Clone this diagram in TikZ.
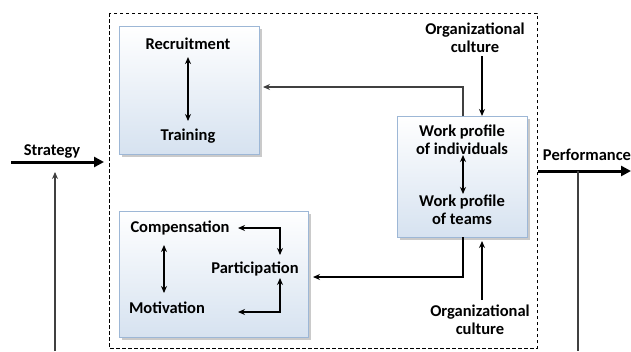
\documentclass[tikz,border=0pt]{standalone}
\usepackage{fontspec}
\setmainfont{Carlito}
\usetikzlibrary{arrows.meta,shadows,calc}
\definecolor{boxbot}{HTML}{D6E2F0}
\definecolor{boxedge}{HTML}{9DB7D6}
\tikzset{
  panel/.style={draw=boxedge, line width=0.8pt, top color=white, bottom color=boxbot,
    drop shadow={shadow xshift=2.5pt, shadow yshift=-2.5pt, fill=gray!70, opacity=0.6}},
  lbl/.style={font=\bfseries\fontsize{16.5}{17.5}\selectfont, align=center, inner sep=0pt},
  conn/.style={line width=1.3pt, -{Stealth[length=7pt,width=6pt]}},
  dconn/.style={line width=1.3pt, {Stealth[length=7pt,width=6pt]}-{Stealth[length=7pt,width=6pt]}},
  thin/.style={line width=1.1pt, draw=black!75},
  big/.style={line width=3pt, -{Stealth[length=10pt,width=10pt,inset=0pt]}}
}
\begin{document}
\begin{tikzpicture}[x=1pt,y=-1pt]
\useasboundingbox (0,0) rectangle (631,351);
% outer dashed frame
\draw[line width=0.9pt, dash pattern=on 3.5pt off 2.5pt] (109,13) rectangle (537,348);
% panels
\node[panel, minimum width=140pt, minimum height=128pt, inner sep=0pt] (rt) at (189,90) {};
\node[panel, minimum width=130pt, minimum height=121pt, inner sep=0pt] (wp) at (462,176.5) {};
\node[panel, minimum width=189pt, minimum height=126pt, inner sep=0pt] (cm) at (213.5,274) {};
% texts
\node[lbl] (rec) at (188,44) {Recruitment};
\node[lbl] (tra) at (188,136) {Training};
\node[lbl] (org1) at (475,38) {Organizational\\culture};
\node[lbl] (org2) at (480,320) {Organizational\\culture};
\node[lbl] (ind) at (462,140) {Work profile\\of individuals};
\node[lbl] (tea) at (462,210) {Work profile\\of teams};
\node[lbl] (com) at (180,228) {Compensation};
\node[lbl] (mot) at (167,308) {Motivation};
\node[lbl] (par) at (255,269) {Participation};
\node[lbl] (str) at (52,151) {Strategy};
\node[lbl] (per) at (587,155) {Performance};
% coordinates
\coordinate (s0) at (11,162);
\coordinate (s1) at (104,162);
\coordinate (sv0) at (55,351);
\coordinate (sv1) at (55,172);
\coordinate (p0) at (538,171);
\coordinate (p1) at (631,171);
\coordinate (pv0) at (578,171);
\coordinate (pv1) at (578,351);
\coordinate (wt) at (463,116);
\coordinate (wb) at (463,237);
\coordinate (rr) at (263,87);
\coordinate (cr) at (313,277);
\coordinate (ca) at (238,228);
\coordinate (ma) at (238,312);
\coordinate (pc) at (280,228);
\coordinate (pt) at (280,255);
\coordinate (pm) at (280,312);
\coordinate (pb) at (280,278);
\coordinate (o1a) at (482,56);
\coordinate (o1b) at (482,116);
\coordinate (o2a) at (482,300);
\coordinate (o2b) at (482,241);
% main arrows
\draw[big] (s0) -- (s1);
\draw[big] (p0) -- (p1);
\draw[thin, -{Stealth[length=7pt,width=6pt]}] (sv0) -- (sv1);
\draw[thin] (pv0) -- (pv1);
% internal connectors
\draw[dconn] (rec.south -| 188,0) ++(0,7) -- (188,121);
\draw[dconn] (463,155) -- (463,194);
\draw[dconn] (164,245) -- (164,293);
\draw[thin, -{Stealth[length=7pt,width=6pt]}] (wt) |- (rr);
\draw[line width=1.3pt, -{Stealth[length=7pt,width=6pt]}] (wb) |- (cr);
\draw[conn] (o1a) -- (o1b);
\draw[conn] (o2a) -- (o2b);
\draw[dconn] (ca) -- (pc) -- (pt);
\draw[dconn] (ma) -- (pm) -- (pb);
\end{tikzpicture}
\end{document}
